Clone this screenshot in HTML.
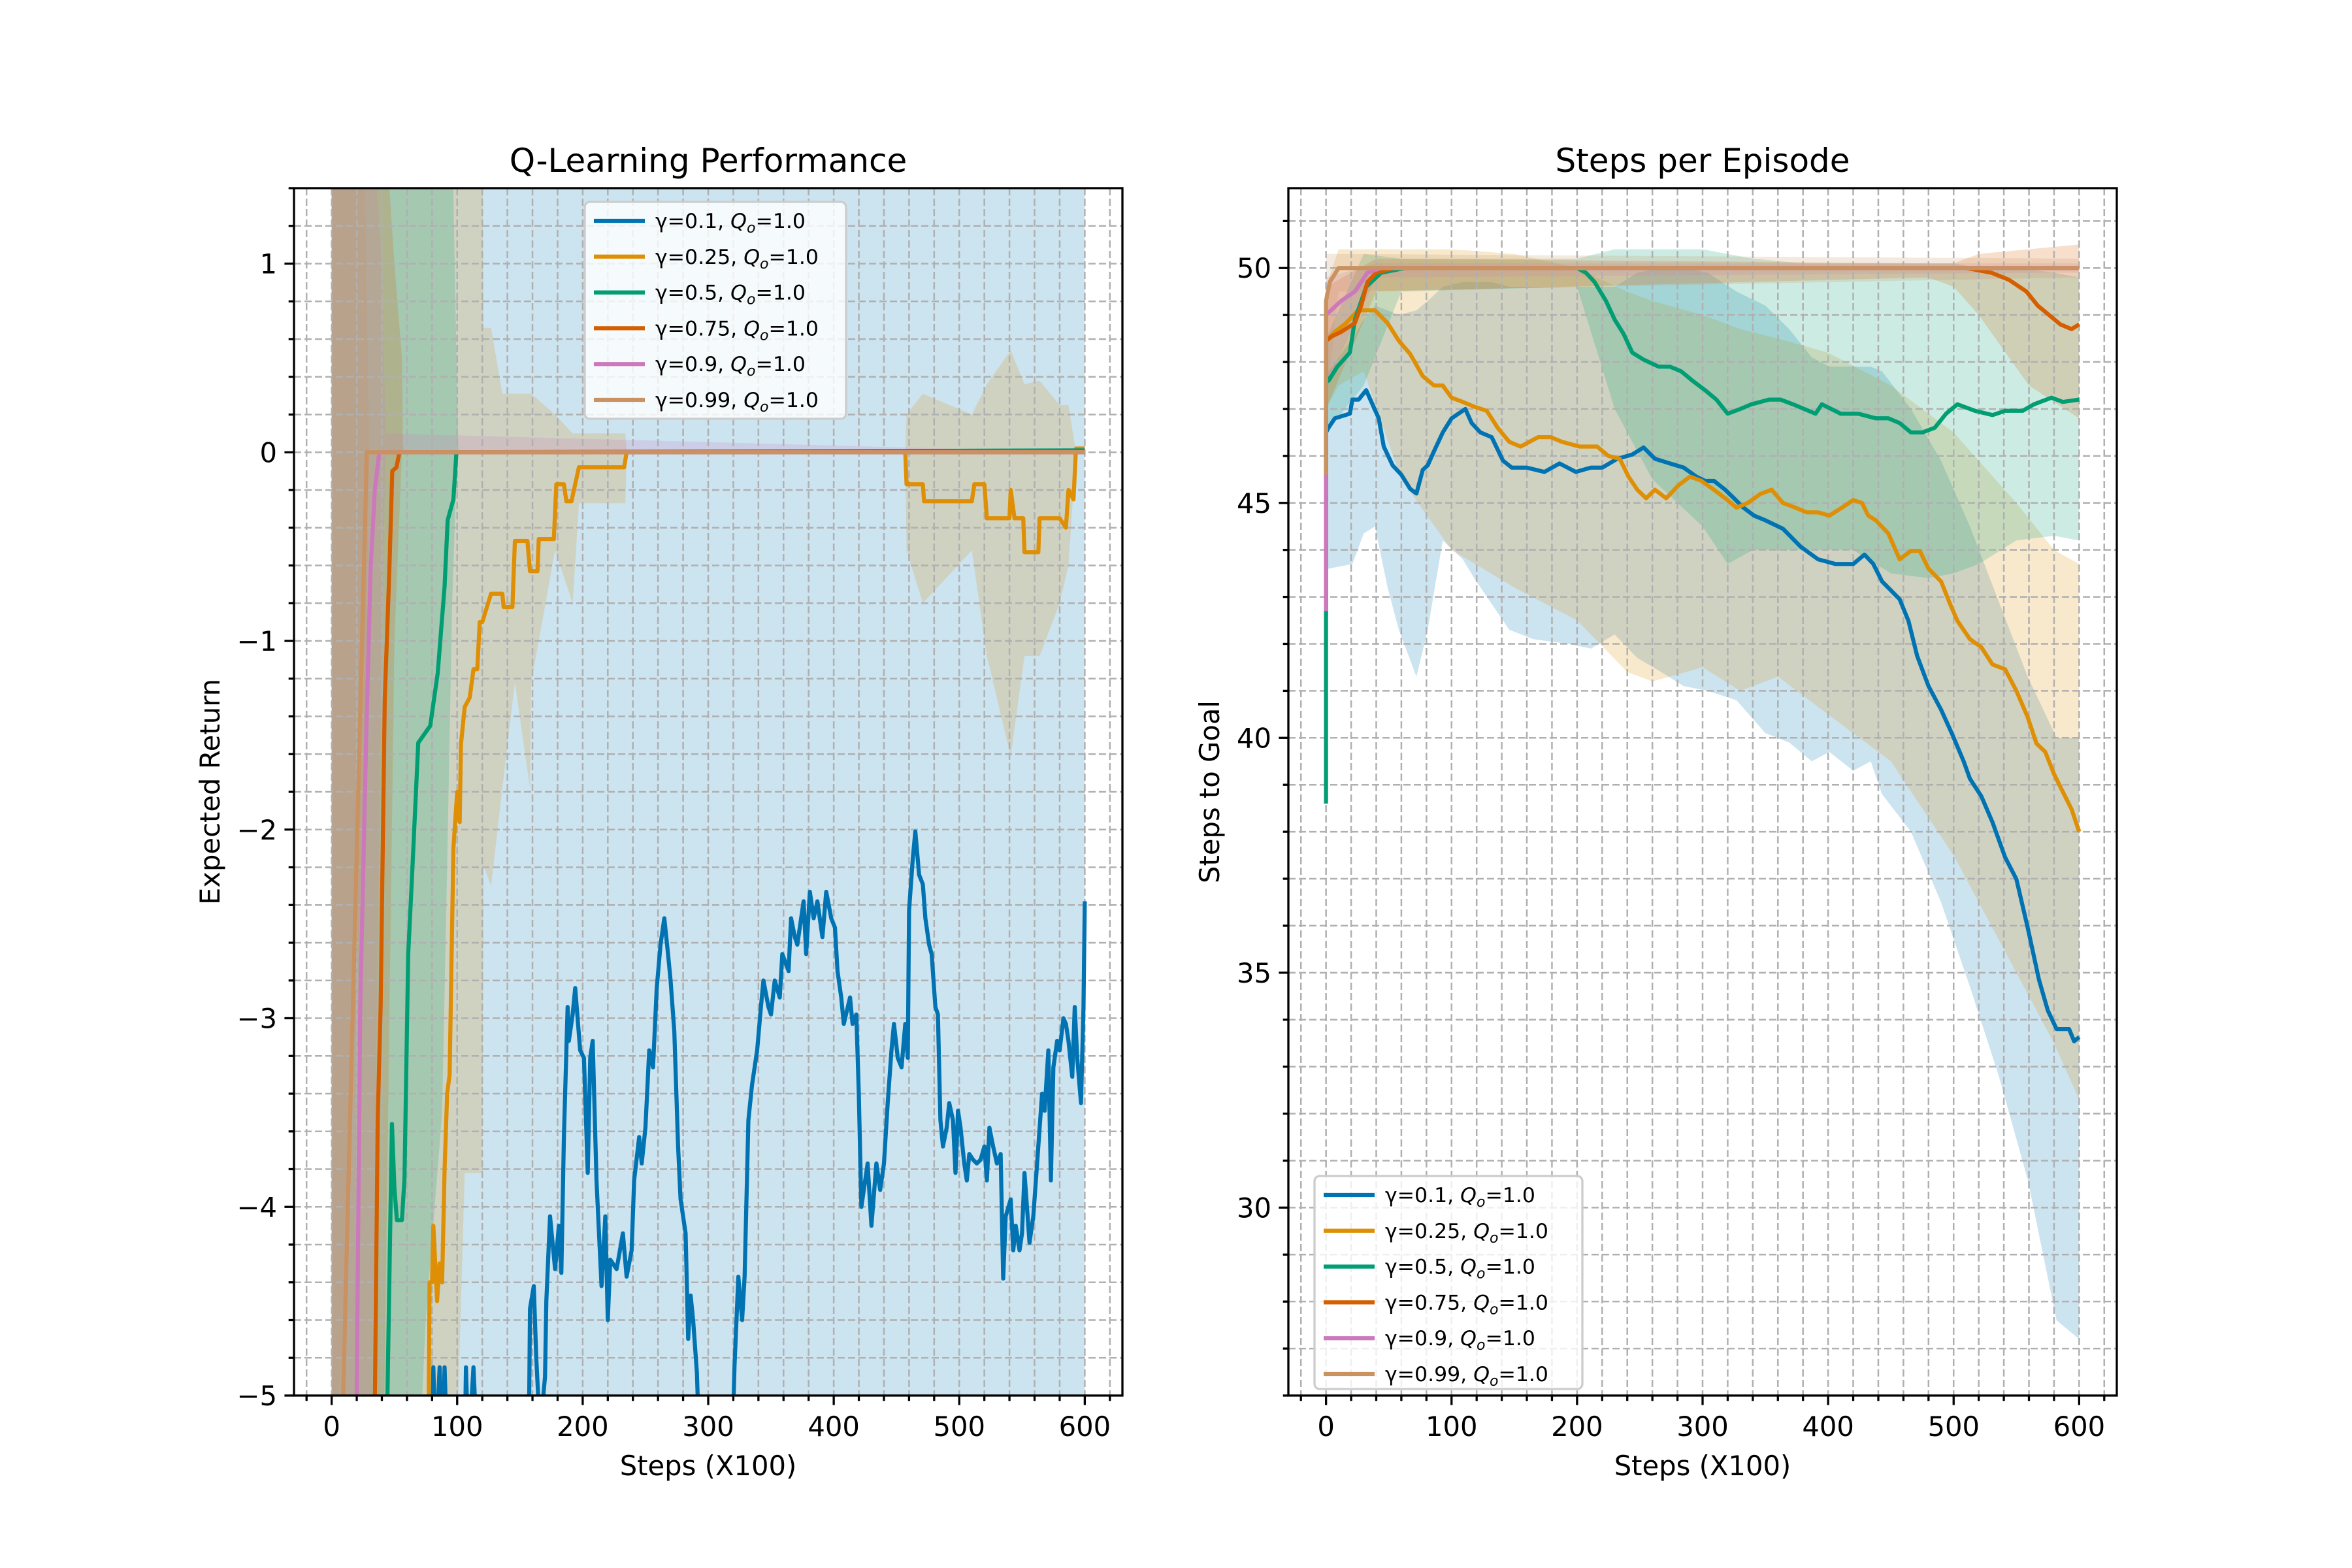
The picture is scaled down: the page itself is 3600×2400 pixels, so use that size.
<!DOCTYPE html>
<html><head><meta charset="utf-8"><style>
html,body{margin:0;padding:0;background:#fff;}
svg{display:block;font-family:"DejaVu Sans","Liberation Sans",sans-serif;}
</style></head><body>
<svg id="fig" xmlns="http://www.w3.org/2000/svg" width="3600" height="2400" viewBox="0 0 3600 2400">
<rect x="0" y="0" width="3600" height="2400" fill="#ffffff"/>
<defs>
<clipPath id="clipL"><rect x="450" y="288" width="1268" height="1848"/></clipPath>
<clipPath id="clipR"><rect x="1972" y="288" width="1268" height="1848"/></clipPath>
</defs>
<g id="left"></g>
<g id="right"></g>
</svg>
<script>
// ===== Left chart data (Expected Return) =====
const seriesNames = ["0.1","0.25","0.5","0.75","0.9","0.99"];
const seriesColors = ["#0173B2","#DE8F05","#029E73","#D55E00","#CC78BC","#CA9161"];
const leftXTicks = [0,100,200,300,400,500,600];
const leftYTicks = [-5,-4,-3,-2,-1,0,1];
const rightYTicks = [30,35,40,45,50];

const L_blue = [[80,-5.3],[81,-4.85],[83,-5.3],[86,-4.85],[88,-5.3],[90,-4.85],[92,-5.3],[106,-5.3],[107,-4.85],[109,-5.3],[113,-4.85],[116,-5.3],[157,-5.3],[158,-4.54],[161,-4.42],[163,-4.8],[166,-5.2],[170,-4.9],[171,-4.5],[174,-4.05],[178,-4.33],[181,-4.1],[183,-4.35],[185,-3.63],[188,-2.94],[189,-3.12],[192,-2.98],[194,-2.84],[198,-3.17],[201,-3.21],[204,-3.82],[206,-3.21],[208,-3.12],[211,-3.86],[215,-4.42],[218,-4.05],[220,-4.6],[222,-4.28],[227,-4.33],[232,-4.14],[235,-4.37],[239,-4.23],[241,-3.86],[245,-3.63],[247,-3.77],[250,-3.58],[253,-3.17],[256,-3.26],[259,-2.84],[262,-2.61],[265,-2.47],[268,-2.66],[270,-2.8],[273,-3.07],[276,-3.68],[278,-3.96],[282,-4.14],[284,-4.7],[286,-4.47],[288,-4.6],[291,-4.88],[293,-5.3],[319,-5.3],[321,-4.84],[324,-4.37],[327,-4.6],[329,-4.37],[332,-3.54],[335,-3.35],[339,-3.17],[342,-2.94],[344,-2.8],[348,-2.94],[350,-2.98],[353,-2.8],[357,-2.89],[359,-2.66],[364,-2.75],[366,-2.47],[369,-2.57],[371,-2.61],[376,-2.38],[378,-2.66],[381,-2.33],[384,-2.47],[387,-2.38],[391,-2.57],[394,-2.33],[398,-2.47],[401,-2.52],[403,-2.75],[406,-2.89],[408,-3.03],[413,-2.89],[415,-3.03],[418,-2.98],[420,-3.4],[422,-4.0],[427,-3.77],[430,-4.1],[434,-3.77],[437,-3.91],[440,-3.77],[443,-3.45],[446,-3.17],[448,-3.03],[451,-3.21],[454,-3.26],[457,-3.03],[459,-3.21],[460,-2.43],[463,-2.15],[465,-2.01],[468,-2.24],[471,-2.29],[473,-2.47],[476,-2.61],[478,-2.66],[481,-2.94],[483,-2.98],[485,-3.54],[487,-3.68],[490,-3.58],[492,-3.45],[495,-3.54],[497,-3.82],[499,-3.49],[501,-3.58],[504,-3.77],[506,-3.86],[508,-3.72],[511,-3.75],[514,-3.77],[517,-3.75],[520,-3.68],[522,-3.86],[524,-3.58],[527,-3.68],[530,-3.77],[533,-3.72],[535,-4.38],[537,-4.05],[541,-3.96],[543,-4.23],[545,-4.1],[548,-4.23],[550,-4.14],[552,-3.82],[556,-4.19],[559,-4.05],[562,-3.77],[566,-3.4],[568,-3.49],[571,-3.17],[573,-3.86],[575,-3.26],[578,-3.12],[580,-3.17],[583,-3.0],[585,-3.03],[587,-3.12],[590,-3.31],[592,-2.94],[594,-3.21],[597,-3.45],[599,-2.94],[600,-2.38]];
const L_orange = [[77,-5.3],[78,-4.4],[80,-4.4],[81,-4.1],[84,-4.5],[86,-4.3],[88,-4.4],[90,-3.8],[92,-3.4],[94,-3.3],[97,-2.1],[98,-2.0],[100,-1.8],[102,-1.96],[103,-1.55],[106,-1.35],[110,-1.3],[113,-1.15],[116,-1.15],[118,-0.9],[120,-0.9],[127,-0.75],[136,-0.75],[137,-0.82],[144,-0.82],[146,-0.47],[156,-0.47],[158,-0.63],[164,-0.63],[165,-0.46],[177,-0.46],[179,-0.17],[185,-0.17],[187,-0.26],[191,-0.26],[197,-0.08],[233,-0.08],[235,0],[457,0],[458,-0.17],[471,-0.17],[472,-0.26],[510,-0.26],[512,-0.17],[520,-0.17],[522,-0.35],[540,-0.35],[541,-0.2],[544,-0.35],[551,-0.35],[552,-0.53],[563,-0.53],[564,-0.35],[580,-0.35],[585,-0.4],[587,-0.2],[591,-0.25],[593,0.02],[600,0.02]];
const L_green = [[43.7,-5.3],[48,-3.56],[50,-3.9],[52,-4.07],[56,-4.07],[58,-3.85],[61,-2.66],[63.6,-2.31],[69,-1.54],[78.5,-1.45],[84.5,-1.17],[90,-0.71],[92.4,-0.36],[97,-0.25],[99.4,0],[600,0.01]];
const L_red = [[34,-5.3],[36.7,-3.54],[39,-2.94],[42.3,-1.31],[46,-0.62],[48.3,-0.1],[51.6,-0.08],[54,0],[600,0]];
const L_pink = [[19.5,-5.3],[22.8,-2.94],[27.4,-1.54],[31,-0.62],[34.4,-0.2],[38,0],[600,0]];
const L_tan = [[8,-5.3],[28,0],[600,0]];

const LF_blue = [[0,-6,2],[600,-6,2]];
const LF_orange = [[0,-6,2],[98,-6,2],[100,-5.2,2],[106,-3.82,2],[120,-3.82,2],[121,-2.19,0.66],[127,-2.3,0.66],[136,-1.78,0.31],[146,-1.22,0.31],[158,-1.78,0.31],[159,-1.22,0.31],[178,-0.52,0.2],[192,-0.8,0.1],[197,-0.27,0.1],[234,-0.27,0.1],[235,0,0],[457,0,0],[458,-0.52,0.2],[471,-0.8,0.31],[510,-0.52,0.2],[522,-1.08,0.36],[541,-1.61,0.54],[552,-1.08,0.36],[564,-1.08,0.38],[580,-0.8,0.25],[587,-0.6,0.25],[593,0,0],[600,0,0]];
const LF_green = [[0,-6,2],[65,-6,2],[75,-4.6,2],[88,-3.5,2],[92,-2.2,2],[96,-0.8,1.7],[100,0,0.3],[101,0,0],[600,0,0]];
const LF_red = [[0,-6,2],[40,-6,2],[50,-1,1],[56,0,0.5],[57,0,0],[600,0,0]];
const LF_pink = [[0,-6,2],[30,-6,2],[40,-1,1],[43,0,0.1],[600,0,0]];
const LF_tan = [[0,-6,2],[25,-2,2],[30,0,0],[600,0,0]];

// ===== Right chart data (Steps per Episode) =====
const R_blue = [[0,42.6],[0,46.5],[2,46.6],[7,46.8],[19,46.9],[21,47.2],[26,47.2],[32,47.4],[37,47.1],[42,46.8],[46,46.2],[53,45.8],[60,45.6],[67,45.3],[72,45.2],[77,45.7],[81,45.8],[86,46.1],[93,46.5],[100,46.8],[111,47.0],[116,46.7],[123,46.5],[132,46.4],[141,45.9],[148,45.75],[160,45.75],[174,45.66],[186,45.84],[199,45.66],[211,45.75],[220,45.75],[232,45.94],[244,46.03],[253,46.18],[262,45.94],[274,45.84],[285,45.75],[295,45.56],[302,45.47],[309,45.47],[318,45.28],[325,45.1],[332,44.91],[341,44.73],[350,44.63],[364,44.45],[378,44.07],[392,43.8],[406,43.7],[420,43.7],[429,43.9],[436,43.7],[443,43.33],[457,42.95],[464,42.49],[471,41.74],[480,41.1],[490,40.6],[499,40.07],[508,39.5],[513,39.13],[522,38.76],[531,38.2],[541,37.46],[550,36.99],[559,35.96],[568,34.85],[575,34.2],[582,33.8],[592,33.8],[596,33.54],[600,33.63]];
const R_orange = [[0,45.5],[0,48.45],[7,48.64],[16,48.83],[25.5,49.1],[39,49.1],[49,48.83],[58,48.45],[67,48.17],[77,47.7],[86,47.5],[93,47.5],[100,47.24],[109,47.15],[118,47.05],[128,46.96],[137,46.59],[146,46.3],[155,46.2],[169,46.4],[179,46.4],[188,46.3],[202,46.2],[216,46.2],[225,46.0],[234,45.94],[241,45.56],[248,45.28],[255,45.1],[262,45.28],[271,45.1],[281,45.38],[290,45.56],[299,45.47],[309,45.28],[318,45.1],[327,44.9],[336,45.0],[346,45.19],[355,45.28],[364,45.0],[374,44.9],[383,44.8],[392,44.8],[401,44.73],[411,44.9],[420,45.06],[427,45.0],[432,44.73],[438,44.63],[448,44.35],[457,43.8],[466,43.98],[473,43.98],[480,43.6],[490,43.33],[497,42.86],[503,42.49],[513,42.1],[522,41.93],[531,41.56],[541,41.46],[550,41.0],[559,40.44],[566,39.88],[573,39.7],[580,39.23],[587,38.85],[594,38.48],[600,38.0]];
const R_green = [[0,38.6],[0,47.7],[2,47.6],[9,47.9],[19,48.2],[23,48.9],[32,49.6],[44,49.9],[63,50],[200,50],[207,49.9],[214,49.7],[223,49.3],[230,48.9],[237,48.6],[244,48.2],[253,48.05],[265,47.9],[274,47.9],[283,47.8],[292,47.6],[302,47.4],[311,47.2],[320,46.9],[330,47.0],[339,47.1],[353,47.2],[362,47.2],[372,47.1],[381,47.0],[390,46.9],[395,47.1],[410,46.9],[424,46.9],[438,46.8],[448,46.8],[457,46.7],[466,46.5],[475,46.5],[485,46.6],[494,46.9],[503,47.1],[517,46.96],[531,46.87],[541,46.96],[555,46.96],[564,47.1],[578,47.24],[587,47.15],[600,47.2]];
const R_red = [[0,45.5],[0,48.45],[5,48.55],[12,48.64],[23,48.83],[28,49.2],[33,49.7],[40,49.9],[54,50],[510,50],[530,49.9],[544,49.75],[558,49.5],[567,49.2],[576,49.0],[585,48.8],[594,48.7],[600,48.8]];
const R_pink = [[0,42.7],[0,49.0],[12,49.3],[23,49.5],[33,49.9],[44,50],[600,50]];
const R_tan = [[0,45.6],[0,49.3],[3,49.7],[10,50],[600,50]];

const RF_blue = [[0,43.4,47.5],[2,43.6,47.8],[21,43.7,48.5],[30,44.35,48.9],[39,44.5,49.2],[49,43.2,49.1],[58,42.3,49.0],[72,41.3,49.1],[81,42.3,49.3],[93,44.2,49.6],[109,43.8,49.7],[118,43.4,49.7],[132,42.85,49.7],[146,42.3,49.6],[165,42.1,49.6],[193,42.0,49.6],[211,41.9,49.6],[230,42.2,49.6],[248,41.7,49.9],[267,41.4,50.0],[285,41.1,50.0],[304,41.0,49.9],[327,40.8,49.5],[350,40.1,49.2],[369,39.9,48.7],[387,39.5,48.1],[401,39.7,47.9],[420,39.3,47.9],[434,39.5,47.9],[443,38.8,47.8],[466,38.0,47.0],[490,36.5,45.9],[513,34.7,44.5],[536,32.8,42.9],[559,30.6,41.3],[582,27.6,40.0],[600,27.2,40.0]];
const RF_orange = [[0,47.0,49.6],[10,47.5,50.4],[30,47.8,50.4],[60,45.5,50.4],[100,44.0,50.4],[150,43.2,50.3],[200,42.5,50.0],[240,41.4,49.5],[260,41.2,49.3],[300,41.5,49.0],[330,41.0,48.7],[360,41.3,48.5],[400,40.5,48.2],[450,39.5,47.5],[500,37.5,46.5],[550,35.0,45.0],[580,33.5,44.0],[600,32.3,43.7]];
const RF_green = [[0,46.5,48.5],[30,47.5,50.3],[60,49.5,50.2],[200,49.6,50.2],[230,47.0,50.4],[260,45.5,50.4],[300,44.5,50.4],[320,43.7,50.3],[340,44.0,50.2],[380,44.0,50.1],[420,44.0,50.1],[450,43.5,50.1],[480,43.4,50.1],[500,43.5,50.1],[520,43.7,50.0],[550,44.2,50.0],[580,44.3,49.9],[600,44.2,49.8]];
const RF_red = [[0,47.0,49.6],[40,49.5,50.2],[480,49.8,50.1],[500,49.6,50.1],[520,49.0,50.3],[560,47.5,50.4],[600,46.8,50.5]];
const RF_pink = [[0,47.5,49.8],[40,49.8,50.1],[600,49.9,50.1]];
const RF_tan = [[0,47.0,50.3],[10,49.5,50.3],[600,49.8,50.2]];

const NS="http://www.w3.org/2000/svg";
function mk(tag, attrs, parent){
  const e=document.createElementNS(NS,tag);
  for(const k in attrs) e.setAttribute(k,attrs[k]);
  parent.appendChild(e); return e;
}
function makeAxes(x0,y0,w,h,xmin,xmax,ymin,ymax){
  return {
    x: v => x0+(v-xmin)/(xmax-xmin)*w,
    y: v => y0+(ymax-v)/(ymax-ymin)*h,
    x0,y0,w,h
  };
}
const AL = makeAxes(450,288,1268,1848,-30,630,-5,1.4);
const AR = makeAxes(1972,288,1268,1848,-30,630,26.0,51.7);

function linePath(ax, pts){
  return pts.map((p,i)=>(i?'L':'M')+ax.x(p[0]).toFixed(1)+','+ax.y(p[1]).toFixed(1)).join(' ');
}
function fillPath(ax, pts){
  let d = pts.map((p,i)=>(i?'L':'M')+ax.x(p[0]).toFixed(1)+','+ax.y(p[2]).toFixed(1)).join(' ');
  for(let i=pts.length-1;i>=0;i--) d+=' L'+ax.x(pts[i][0]).toFixed(1)+','+ax.y(pts[i][1]).toFixed(1);
  return d+' Z';
}
function fmt(v){ return (v<0?'\u2212':'')+Math.abs(v); }

function drawChart(g, ax, clipId, fills, lines, xTicks, yTicks, yMinorStep, yMinMinor, yMaxMinor, title){
  const fg = mk('g',{'clip-path':'url(#'+clipId+')'},g);
  
  
  fills.forEach((f,i)=>{
    const p=mk('path',{d:fillPath(ax,f),fill:seriesColors[i],'fill-opacity':0.2,stroke:'none'},fg);
    
    
  });
  const gg = mk('g',{stroke:'#b0b0b0','stroke-width':2.5,'stroke-dasharray':'11,5'},g);
  
  
  for(let v=-20; v<=620; v+=20){
    const X=ax.x(v); if(X<ax.x0||X>ax.x0+ax.w) continue;
    mk('line',{x1:X,y1:ax.y0,x2:X,y2:ax.y0+ax.h},gg);
  }
  for(let k=Math.round(yMinMinor/yMinorStep); k*yMinorStep<=yMaxMinor+1e-9; k++){
    const v=k*yMinorStep; const Y=ax.y(v); if(Y<ax.y0-0.5||Y>ax.y0+ax.h+0.5) continue;
    mk('line',{x1:ax.x0,y1:Y,x2:ax.x0+ax.w,y2:Y},gg);
  }
  const lg = mk('g',{'clip-path':'url(#'+clipId+')',fill:'none','stroke-width':6.25,'stroke-linejoin':'round'},g);
  
  
  lines.forEach((l,i)=>{
    const p=mk('path',{d:linePath(ax,l),stroke:seriesColors[i]},lg);
    
    
  });
  const sp=mk('rect',{x:ax.x0,y:ax.y0,width:ax.w,height:ax.h,fill:'none',stroke:'#000','stroke-width':3.3},g);
  
  
  const tg=mk('g',{stroke:'#000','stroke-width':3.3},g);
  
  
  const B=ax.y0+ax.h;
  for(let v=-20; v<=620; v+=20){
    const X=ax.x(v); if(X<ax.x0||X>ax.x0+ax.w) continue;
    const major = xTicks.indexOf(v)>=0;
    mk('line',{x1:X,y1:B,x2:X,y2:B+(major?14.6:8.3)},tg);
  }
  for(let k=Math.round(yMinMinor/yMinorStep); k*yMinorStep<=yMaxMinor+1e-9; k++){
    const v=+(k*yMinorStep).toFixed(4); const Y=ax.y(v); if(Y<ax.y0-0.5||Y>B+0.5) continue;
    const major = yTicks.indexOf(v)>=0;
    mk('line',{x1:ax.x0,y1:Y,x2:ax.x0-(major?14.6:8.3),y2:Y},tg);
  }
  const lab=mk('g',{'font-size':41.7,fill:'#000'},g);
  
  
  xTicks.forEach(v=>{
    const t=mk('text',{x:ax.x(v),y:B+62,'text-anchor':'middle'},lab); t.textContent=fmt(v);
    
    
  });
  yTicks.forEach(v=>{
    const t=mk('text',{x:ax.x0-26,y:ax.y(v)+15,'text-anchor':'end'},lab); t.textContent=fmt(v);
    
    
  });
  const tt=mk('text',{x:ax.x0+ax.w/2,y:ax.y0-25,'text-anchor':'middle','font-size':50},g); tt.textContent=title;
  
  
  const xl=mk('text',{x:ax.x0+ax.w/2,y:B+122,'text-anchor':'middle','font-size':41.7},g); xl.textContent='Steps (X100)';
  
  
  return B;
}

function drawLegend(g, x, y, w, h){
  const lg=mk('g',{},g);
  
  
  mk('rect',{x:x,y:y,width:w,height:h,rx:8,fill:'#ffffff','fill-opacity':0.8,stroke:'#cccccc','stroke-width':3.3},lg);
  seriesNames.forEach((n,i)=>{
    const ry=y+29+i*54.8;
    const e=mk('g',{},lg);
    
    
    mk('line',{x1:x+14,y1:ry,x2:x+92,y2:ry,stroke:seriesColors[i],'stroke-width':6.25},e);
    const t=mk('text',{x:x+108,y:ry+11,'font-size':31.5,fill:'#000'},e);
    t.innerHTML='\u03B3='+n+', <tspan font-style="italic">Q</tspan><tspan font-style="italic" font-size="22" dy="7">o</tspan><tspan dy="-7">=1.0</tspan>';
  });
}

const gL=document.getElementById('left');
drawChart(gL, AL, 'clipL', [LF_blue,LF_orange,LF_green,LF_red,LF_pink,LF_tan], [L_blue,L_orange,L_green,L_red,L_pink,L_tan], leftXTicks, leftYTicks, 0.2, -5, 1.4, 'Q-Learning Performance');
const yl1=mk('text',{x:0,y:0,'text-anchor':'middle','font-size':41.7,transform:'translate(336,1212) rotate(-90)'},gL); yl1.textContent='Expected Return';


drawLegend(gL, 895, 309, 400, 332);

const gR=document.getElementById('right');
drawChart(gR, AR, 'clipR', [RF_blue,RF_orange,RF_green,RF_red,RF_pink,RF_tan], [R_blue,R_orange,R_green,R_red,R_pink,R_tan], leftXTicks, rightYTicks, 1, 26, 51.7, 'Steps per Episode');
const yl2=mk('text',{x:0,y:0,'text-anchor':'middle','font-size':41.7,transform:'translate(1866,1212) rotate(-90)'},gR); yl2.textContent='Steps to Goal';


drawLegend(gR, 2012, 1800, 410, 326);
</script>
</body></html>
